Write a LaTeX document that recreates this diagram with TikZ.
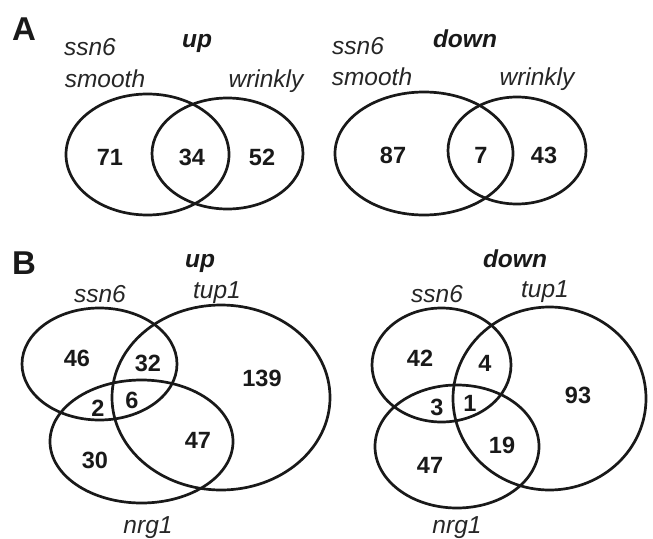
\documentclass[tikz,border=0pt]{standalone}
\usepackage{fontspec}
\setmainfont{Liberation Sans}
\usetikzlibrary{shapes.geometric}
\begin{document}
\begin{tikzpicture}[x=1pt,y=-1pt,
  venn/.style={draw=black!90,line width=2.7pt,ellipse,inner sep=0pt},
  lbl/.style={inner sep=0pt,anchor=base,font=\fontsize{24.5}{26}\selectfont\itshape,text=black!85},
  ttl/.style={inner sep=0pt,anchor=base,font=\fontsize{24.5}{26}\selectfont\bfseries\itshape,text=black!90},
  num/.style={inner sep=0pt,font=\fontsize{23.5}{25}\selectfont\bfseries,text=black!90},
  pan/.style={inner sep=0pt,anchor=base,font=\fontsize{33}{35}\selectfont\bfseries,text=black!90}]
\useasboundingbox (0,0) rectangle (653,538);
% ---------- Panel A ----------
\node[pan] (A) at (24,40) {A};
% A up
\node[venn,minimum width=163pt,minimum height=121pt] (au1) at (147.5,154.5) {};
\node[venn,minimum width=151pt,minimum height=111pt] (au2) at (227.5,153.5) {};
\node[lbl] (aus) at (90,55) {ssn6};
\node[lbl] (ausm) at (105,87) {smooth};
\node[ttl] (aup) at (197,47) {up};
\node[lbl] (auw) at (266,87) {wrinkly};
\node[num] (n71) at (110,157.5) {71};
\node[num] (n34) at (192,157.5) {34};
\node[num] (n52) at (262,157.5) {52};
% A down
\node[venn,minimum width=178pt,minimum height=123pt] (ad1) at (424,153.5) {};
\node[venn,minimum width=138pt,minimum height=107pt] (ad2) at (517,150.5) {};
\node[lbl] (ads) at (358,54) {ssn6};
\node[lbl] (adsm) at (372,85) {smooth};
\node[ttl] (adn) at (465,47) {down};
\node[lbl] (adw) at (537,85) {wrinkly};
\node[num] (n87) at (393,155) {87};
\node[num] (n7) at (481,155) {7};
\node[num] (n43) at (544,155) {43};
% ---------- Panel B ----------
\node[pan] (B) at (24,274) {B};
% B up
\node[venn,minimum width=155pt,minimum height=112pt] (bu1) at (99.5,364) {};
\node[venn,minimum width=218pt,minimum height=185pt] (bu2) at (221,397.5) {};
\node[venn,minimum width=183pt,minimum height=123pt] (bu3) at (141.5,441.5) {};
\node[ttl] (bup) at (200,267) {up};
\node[lbl] (bus) at (100,302) {ssn6};
\node[lbl] (but) at (217,298) {tup1};
\node[lbl] (bun) at (148,533) {nrg1};
\node[num] (m46) at (77,358) {46};
\node[num] (m32) at (148,363) {32};
\node[num] (m139) at (262,378) {139};
\node[num] (m2) at (98,408) {2};
\node[num] (m6) at (132,400) {6};
\node[num] (m47) at (198,440) {47};
\node[num] (m30) at (95,460) {30};
% B down
\node[venn,minimum width=139pt,minimum height=114pt] (bd1) at (441.5,365) {};
\node[venn,minimum width=193pt,minimum height=183pt] (bd2) at (549.5,398.5) {};
\node[venn,minimum width=164pt,minimum height=123pt] (bd3) at (457,446.5) {};
\node[ttl] (bdn) at (515,267) {down};
\node[lbl] (bds) at (437,302) {ssn6};
\node[lbl] (bdt) at (545,297) {tup1};
\node[lbl] (bdr) at (457,533) {nrg1};
\node[num] (k42) at (420,358) {42};
\node[num] (k4) at (485,363) {4};
\node[num] (k93) at (578,395) {93};
\node[num] (k3) at (437,407) {3};
\node[num] (k1) at (470,403) {1};
\node[num] (k19) at (502,445) {19};
\node[num] (k47) at (430,465) {47};
\end{tikzpicture}
\end{document}
